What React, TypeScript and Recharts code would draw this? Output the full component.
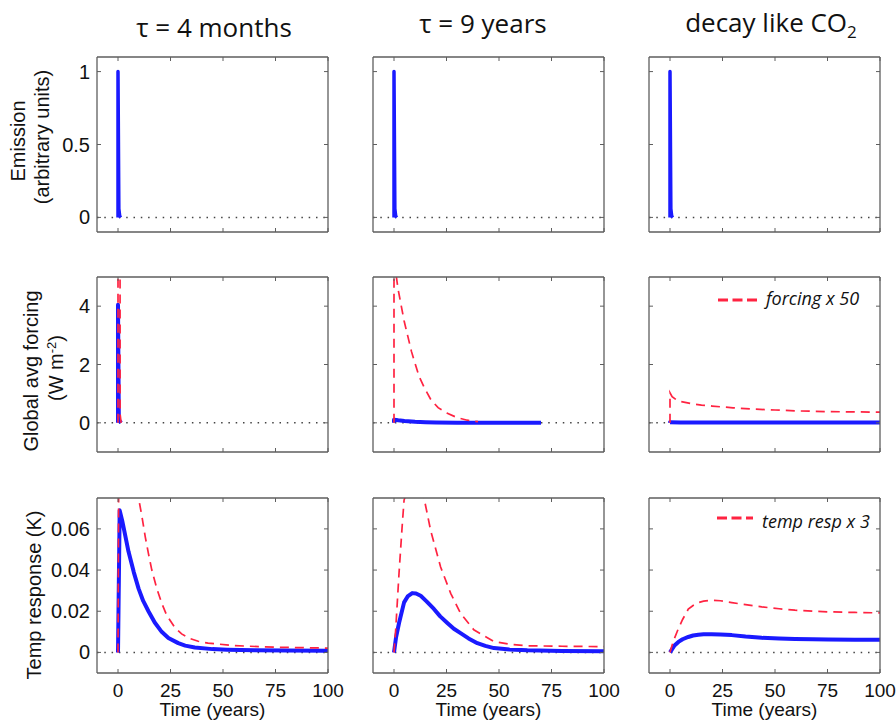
import { LineChart, Line, XAxis, YAxis, ReferenceLine } from "recharts";

// time axis
const X_DOMAIN: [number, number] = [-10, 100];
const X_TICKS = [0, 25, 50, 75, 100];

// emission pulse (same in every column)
const emisT = [0, 0, 0.4, 0.8, 1.3];
const emisV = [0, 1, 0.06, 0.01, 0];

// global avg forcing, tau = 4 months
const f1BlueT = [0, 0, 0.4, 1.5];
const f1BlueV = [0, 4.05, 0.1, 0];
const f1RedT = [0, 0, 1, 1.5];
const f1RedV = [0, 202, 0.3, 0];

// global avg forcing, tau = 9 years
const f2BlueT = [0, 0, 2, 5, 10, 15, 20, 30, 40, 50, 60, 70];
const f2BlueV = [0, 0.11, 0.09, 0.065, 0.037, 0.021, 0.012, 0.004, 0.0013, 0.0004, 0.0001, 0];
const f2RedT = [0, 0, 1.9, 4.8, 8.3, 11.9, 14.5, 17.5, 21, 25.4, 30, 34.9, 40];
const f2RedV = [0, 5.6, 4.6, 3.5, 2.45, 1.6, 1.2, 0.8, 0.52, 0.33, 0.18, 0.09, 0.04];

// global avg forcing, CO2-like decay
const f3BlueT = [0, 0, 5, 20, 50, 100];
const f3BlueV = [0, 0.021, 0.0146, 0.0115, 0.0088, 0.0073];
const f3RedT = [0, 0, 1, 3, 5, 10, 15, 20, 30, 40, 50, 60, 75, 100];
const f3RedV = [0, 1.03, 0.9, 0.79, 0.73, 0.66, 0.61, 0.575, 0.515, 0.47, 0.44, 0.41, 0.385, 0.365];

// temp response, tau = 4 months
const t1BlueT = [0, 0.8, 2, 3, 5, 7.5, 9.8, 12, 14.5, 17.5, 20.8, 24, 28.7, 32, 36.6, 45, 52, 65, 80, 100];
const t1BlueV = [0, 0.069, 0.064, 0.059, 0.049, 0.039, 0.031, 0.025, 0.02, 0.0145, 0.01, 0.007, 0.0045, 0.0033, 0.0024, 0.0016, 0.0013, 0.001, 0.0009, 0.0008];
const t1RedT = [0, 0.8, 3, 6, 9.8, 11.4, 13, 14.5, 16.1, 18.5, 20.8, 23.2, 27.1, 30.3, 34.2, 38.2, 42.9, 55.5, 75, 100];
const t1RedV = [0, 0.2, 0.165, 0.12, 0.075, 0.066, 0.056, 0.048, 0.04, 0.031, 0.024, 0.018, 0.012, 0.009, 0.0068, 0.0054, 0.0045, 0.0033, 0.0025, 0.0021];

// temp response, tau = 9 years
const t2BlueT = [0, 1, 2.4, 4.8, 6.5, 8.7, 10.5, 12.7, 15.5, 19, 22, 25.4, 28.5, 31.7, 35.5, 39.7, 43.5, 47.6, 55, 63.5, 80, 100];
const t2BlueV = [0, 0.0075, 0.0143, 0.0243, 0.0272, 0.0288, 0.0286, 0.0275, 0.0248, 0.0211, 0.0175, 0.0143, 0.0115, 0.0094, 0.0068, 0.0045, 0.0032, 0.0021, 0.0014, 0.001, 0.0007, 0.0006];
const t2RedT = [0, 0.8, 2.4, 4, 4.8, 9, 14.3, 17.5, 22.2, 27, 31.7, 38, 47.6, 55, 63.5, 80, 100];
const t2RedV = [0, 0.011, 0.0386, 0.063, 0.074, 0.086, 0.075, 0.059, 0.0415, 0.0287, 0.019, 0.011, 0.0053, 0.004, 0.0032, 0.003, 0.0028];

// temp response, CO2-like decay
const t3BlueT = [0, 2, 4, 6, 8.7, 11, 13.5, 16, 19.8, 24, 29.4, 36, 43.7, 52, 59.5, 68, 75.4, 88, 100];
const t3BlueV = [0, 0.0032, 0.0051, 0.0064, 0.0075, 0.0082, 0.0086, 0.0088, 0.0088, 0.0087, 0.0084, 0.0077, 0.0071, 0.0067, 0.0065, 0.0064, 0.0063, 0.0062, 0.0061];
const t3RedT = [0, 1, 2, 4, 6, 8.7, 11, 13.5, 16, 19.8, 24, 29.4, 36, 43.7, 52, 59.5, 68, 75.4, 88, 100];
const t3RedV = [0, 0.0035, 0.0065, 0.0116, 0.016, 0.021, 0.0228, 0.0242, 0.0249, 0.0253, 0.0251, 0.0242, 0.0232, 0.0221, 0.0212, 0.0205, 0.02, 0.0197, 0.0194, 0.0192];

// y axes per row
const emisDomain: [number, number] = [-0.1, 1.1];
const emisTicks = [0, 0.5, 1];
const forcDomain: [number, number] = [-1, 5];
const forcTicks = [0, 2, 4];
const tempDomain: [number, number] = [-0.01, 0.075];
const tempTicks = [0, 0.02, 0.04, 0.06];

const BLUE = "#1a1aff";
const RED = "#ff2341";
const FRAME = "#5e5e5e";
const TEXT = "#111";
const FONT = "'Liberation Sans', Arial, sans-serif";
const TITLE_FONT = "'Open Sans', sans-serif";

const PW = 231;
const PH = 175;
const COLS = [97, 373, 649];
const ROWS = [57, 277, 498];

type Pt = { t: number; v: number };
const pts = (ts: number[], vs: number[]): Pt[] => ts.map((t, i) => ({ t, v: vs[i] }));

type PanelProps = {
  left: number;
  top: number;
  domain: [number, number];
  yTicks: number[];
  yLabels: boolean;
  xLabels: boolean;
  blue: Pt[];
  red?: Pt[];
  blueWidth: number;
};

function Panel(p: PanelProps) {
  const lw = p.yLabels ? 60 : 6;
  const tm = 4;
  const rm = 16;
  const hb = p.xLabels ? 32 : 6;
  const axisLine = { stroke: FRAME, strokeWidth: 1.3 };

  // top and right axes are 1px thick so that recharts draws them (frame)
  return (
    <div style={{ position: "absolute", left: p.left - lw, top: p.top - tm }}>
      <LineChart width={lw + PW + rm} height={tm + PH + hb} margin={{ top: tm - 1, right: rm - 1, bottom: 0, left: 0 }}>
        <XAxis
          dataKey="t"
          type="number"
          domain={X_DOMAIN}
          ticks={X_TICKS}
          allowDataOverflow
          interval={0}
          height={hb}
          tickSize={0}
          tickMargin={0}
          tickLine={false}
          axisLine={axisLine}
          tick={(t: any) => (
            <g>
              <line x1={t.x} x2={t.x} y1={t.y} y2={t.y - 4} stroke={FRAME} />
              {p.xLabels && (
                <text x={t.x} y={t.y + 24} textAnchor="middle" fontSize={19} fontFamily={FONT} fill={TEXT}>
                  {t.payload.value}
                </text>
              )}
            </g>
          )}
        />
        <XAxis
          xAxisId="top"
          orientation="top"
          dataKey="t"
          type="number"
          domain={X_DOMAIN}
          ticks={X_TICKS}
          allowDataOverflow
          interval={0}
          height={1}
          tickSize={0}
          tickMargin={0}
          tickLine={false}
          axisLine={axisLine}
          tick={(t: any) => <line x1={t.x} x2={t.x} y1={t.y} y2={t.y + 4} stroke={FRAME} />}
        />
        <YAxis
          type="number"
          domain={p.domain}
          ticks={p.yTicks}
          allowDataOverflow
          interval={0}
          width={lw}
          tickSize={0}
          tickMargin={0}
          tickLine={false}
          axisLine={axisLine}
          tick={(t: any) => (
            <g>
              <line x1={t.x} x2={t.x + 4} y1={t.y} y2={t.y} stroke={FRAME} />
              {p.yLabels && (
                <text x={t.x - 7} y={t.y + 7} textAnchor="end" fontSize={20} fontFamily={FONT} fill={TEXT}>
                  {String(t.payload.value)}
                </text>
              )}
            </g>
          )}
        />
        <YAxis
          yAxisId="right"
          orientation="right"
          type="number"
          domain={p.domain}
          ticks={p.yTicks}
          allowDataOverflow
          interval={0}
          width={1}
          tickSize={0}
          tickMargin={0}
          tickLine={false}
          axisLine={axisLine}
          tick={(t: any) => <line x1={t.x} x2={t.x - 4} y1={t.y} y2={t.y} stroke={FRAME} />}
        />
        <ReferenceLine y={0} stroke="#444" strokeWidth={1.5} strokeDasharray="1.5 5.8" />
        {/* invisible copy bound to the frame axes */}
        <Line
          xAxisId="top"
          yAxisId="right"
          data={p.blue}
          dataKey="v"
          type="linear"
          stroke="none"
          dot={false}
          activeDot={false}
          isAnimationActive={false}
        />
        <Line
          data={p.blue}
          dataKey="v"
          type="linear"
          stroke={BLUE}
          strokeWidth={p.blueWidth}
          strokeLinejoin="round"
          dot={false}
          activeDot={false}
          isAnimationActive={false}
        />
        {p.red && (
          <Line
            data={p.red}
            dataKey="v"
            type="linear"
            stroke={RED}
            strokeWidth={1.7}
            strokeDasharray="9 6"
            dot={false}
            activeDot={false}
            isAnimationActive={false}
          />
        )}
      </LineChart>
    </div>
  );
}

export default function App() {
  const emission = pts(emisT, emisV);
  const rows = [
    { domain: emisDomain, ticks: emisTicks, width: 3.5, blue: [emission, emission, emission], red: [undefined, undefined, undefined] },
    {
      domain: forcDomain,
      ticks: forcTicks,
      width: 4,
      blue: [pts(f1BlueT, f1BlueV), pts(f2BlueT, f2BlueV), pts(f3BlueT, f3BlueV)],
      red: [pts(f1RedT, f1RedV), pts(f2RedT, f2RedV), pts(f3RedT, f3RedV)],
    },
    {
      domain: tempDomain,
      ticks: tempTicks,
      width: 4,
      blue: [pts(t1BlueT, t1BlueV), pts(t2BlueT, t2BlueV), pts(t3BlueT, t3BlueV)],
      red: [pts(t1RedT, t1RedV), pts(t2RedT, t2RedV), pts(t3RedT, t3RedV)],
    },
  ];

  return (
    <div style={{ position: "absolute", left: 0, top: 0, width: 896, height: 724, background: "#fff", overflow: "hidden" }}>
      {rows.map((r, ri) =>
        COLS.map((cx, ci) => (
          <Panel
            key={`${ri}-${ci}`}
            left={cx}
            top={ROWS[ri]}
            domain={r.domain}
            yTicks={r.ticks}
            yLabels={ci === 0}
            xLabels={ri === 2}
            blue={r.blue[ci]}
            red={r.red[ci]}
            blueWidth={r.width}
          />
        ))
      )}
      <svg width={896} height={724} style={{ position: "absolute", left: 0, top: 0, pointerEvents: "none" }}>
        {/* column titles */}
        <g fontFamily={TITLE_FONT} fontSize={26} fill={TEXT} textAnchor="middle">
          <text x={214} y={37}>τ = 4 months</text>
          <text x={483} y={32.5}>τ = 9 years</text>
          <text x={771} y={32}>
            decay like CO<tspan dy={6} fontSize={17}>2</tspan>
          </text>
        </g>
        {/* y axis titles */}
        <g fontFamily={FONT} fontSize={20} fill={TEXT} textAnchor="middle">
          <text transform="translate(25,141) rotate(-90)">Emission</text>
          <text transform="translate(49,137) rotate(-90)">(arbitrary units)</text>
          <text transform="translate(37.5,371) rotate(-90)">Global avg forcing</text>
          <text transform="translate(63,368) rotate(-90)">
            (W m<tspan dy={-7} fontSize={13}>-2</tspan>
            <tspan dy={7}>)</tspan>
          </text>
          <text transform="translate(41,595) rotate(-90)">Temp response (K)</text>
        </g>
        {/* x axis titles */}
        <g fontFamily={FONT} fontSize={19} fill={TEXT} textAnchor="middle">
          {COLS.map((cx) => (
            <text key={cx} x={cx + PW / 2} y={716}>
              Time (years)
            </text>
          ))}
        </g>
        {/* legends */}
        <g fontFamily={TITLE_FONT} fontSize={18} fontStyle="italic" fill={TEXT}>
          <line x1={718} x2={757} y1={300} y2={300} stroke={RED} strokeWidth={3} strokeDasharray="10 4.5" />
          <text x={766} y={305}>forcing x 50</text>
          <line x1={717} x2={753} y1={518} y2={518} stroke={RED} strokeWidth={3} strokeDasharray="10 4.5" />
          <text x={762} y={528}>temp resp x 3</text>
        </g>
      </svg>
    </div>
  );
}
